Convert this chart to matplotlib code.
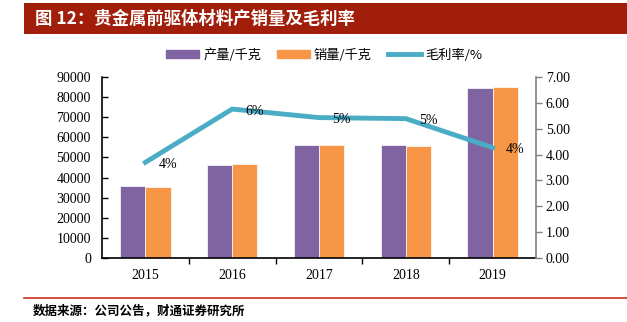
"""Precious-metal precursor output / sales and gross margin chart."""
import matplotlib
matplotlib.use("Agg")
import matplotlib.pyplot as plt
import numpy as np
from matplotlib.patches import Rectangle
from matplotlib.lines import Line2D

plt.rcParams['font.family'] = ['Noto Sans CJK SC', 'DejaVu Sans']

years = ["2015", "2016", "2017", "2018", "2019"]
production = [35800, 46100, 56200, 56200, 84500]
sales = [35300, 46600, 56200, 55700, 85100]
margin = [3.70, 5.76, 5.43, 5.39, 4.27]
margin_labels = ["4%", "6%", "5%", "5%", "4%"]

PURPLE = "#8064A2"
ORANGE = "#F79646"
AQUA = "#4BACC6"
SERIF = ["Liberation Serif", "DejaVu Serif"]

fig = plt.figure(figsize=(6.27, 3.22), dpi=100)
fig.patch.set_facecolor("white")

# title bar
fig.patches.append(Rectangle((24 / 627, 1 - 34 / 322), 603 / 627, 31 / 322,
                             transform=fig.transFigure, facecolor="#A01E0A",
                             edgecolor="none"))
fig.text(35 / 627, 1 - 18.5 / 322, "图 12：贵金属前驱体材料产销量及毛利率",
         color="white", fontsize=12.5, fontweight="bold", va="center", ha="left")

ax = fig.add_axes([102 / 627, 64 / 322, 434 / 627, 181 / 322])
x = np.arange(len(years))
w = 0.29
ax.bar(x - w / 2, production, w, color=PURPLE, edgecolor="white", linewidth=0.5)
ax.bar(x + w / 2, sales, w, color=ORANGE, edgecolor="white", linewidth=0.5)
ax.set_xlim(-0.5, 4.5)
ax.set_ylim(0, 90000)
ax.set_yticks(np.arange(0, 90001, 10000))
ax.set_yticklabels([str(v) for v in range(0, 90001, 10000)], family=SERIF, fontsize=10)
ax.tick_params(axis="y", direction="in", length=4, width=1, pad=8, colors="black")
ax.set_xticks(x)
ax.set_xticklabels(years, family=SERIF, fontsize=10)
ax.set_xticks(np.arange(0.5, 4.5, 1), minor=True)
ax.tick_params(axis="x", which="major", length=0, pad=8)
ax.tick_params(axis="x", which="minor", direction="out", length=4, width=1)
ax.spines["top"].set_visible(False)
ax.spines["right"].set_visible(False)
ax.spines["left"].set_linewidth(1.2)
ax.spines["bottom"].set_linewidth(1.2)

ax2 = ax.twinx()
ax2.plot(x, margin, color=AQUA, linewidth=3.5, solid_joinstyle="miter")
for xi, yi, lab in zip(x, margin, margin_labels):
    ax2.annotate(lab, (xi, yi), xytext=(9.5, -1.5), textcoords="offset points",
                 ha="left", va="center", family=SERIF, fontsize=10)
ax2.set_ylim(0, 7)
ax2.set_yticks(np.arange(0, 7.01, 1))
ax2.set_yticklabels([f"{v:.2f}" for v in range(8)], family=SERIF, fontsize=10)
ax2.tick_params(axis="y", direction="out", length=4, width=1, color="#808080", pad=3)
for s in ["top", "left", "bottom"]:
    ax2.spines[s].set_visible(False)
ax2.spines["right"].set_color("#808080")
ax2.spines["right"].set_linewidth(1.2)

handles = [Rectangle((0, 0), 1, 1, color=PURPLE), Rectangle((0, 0), 1, 1, color=ORANGE),
           Line2D([], [], color=AQUA, linewidth=3.5)]
fig.legend(handles, ["产量/千克", "销量/千克", "毛利率/%"], loc="center",
           bbox_to_anchor=(324 / 627, 1 - 55 / 322), ncol=3, frameon=False,
           fontsize=9.5, handlelength=2.5, handleheight=0.6, columnspacing=1.2,
           handletextpad=0.3)

# source line
fig.add_artist(Line2D([24 / 627, 1], [1 - 298 / 322] * 2, transform=fig.transFigure,
                      color="#C8321E", linewidth=1.2))
fig.text(33 / 627, 1 - 311 / 322, "数据来源：公司公告，财通证券研究所",
         fontsize=9, fontweight="bold", va="center", ha="left")

fig.savefig("out.png", dpi=100, facecolor="white")
